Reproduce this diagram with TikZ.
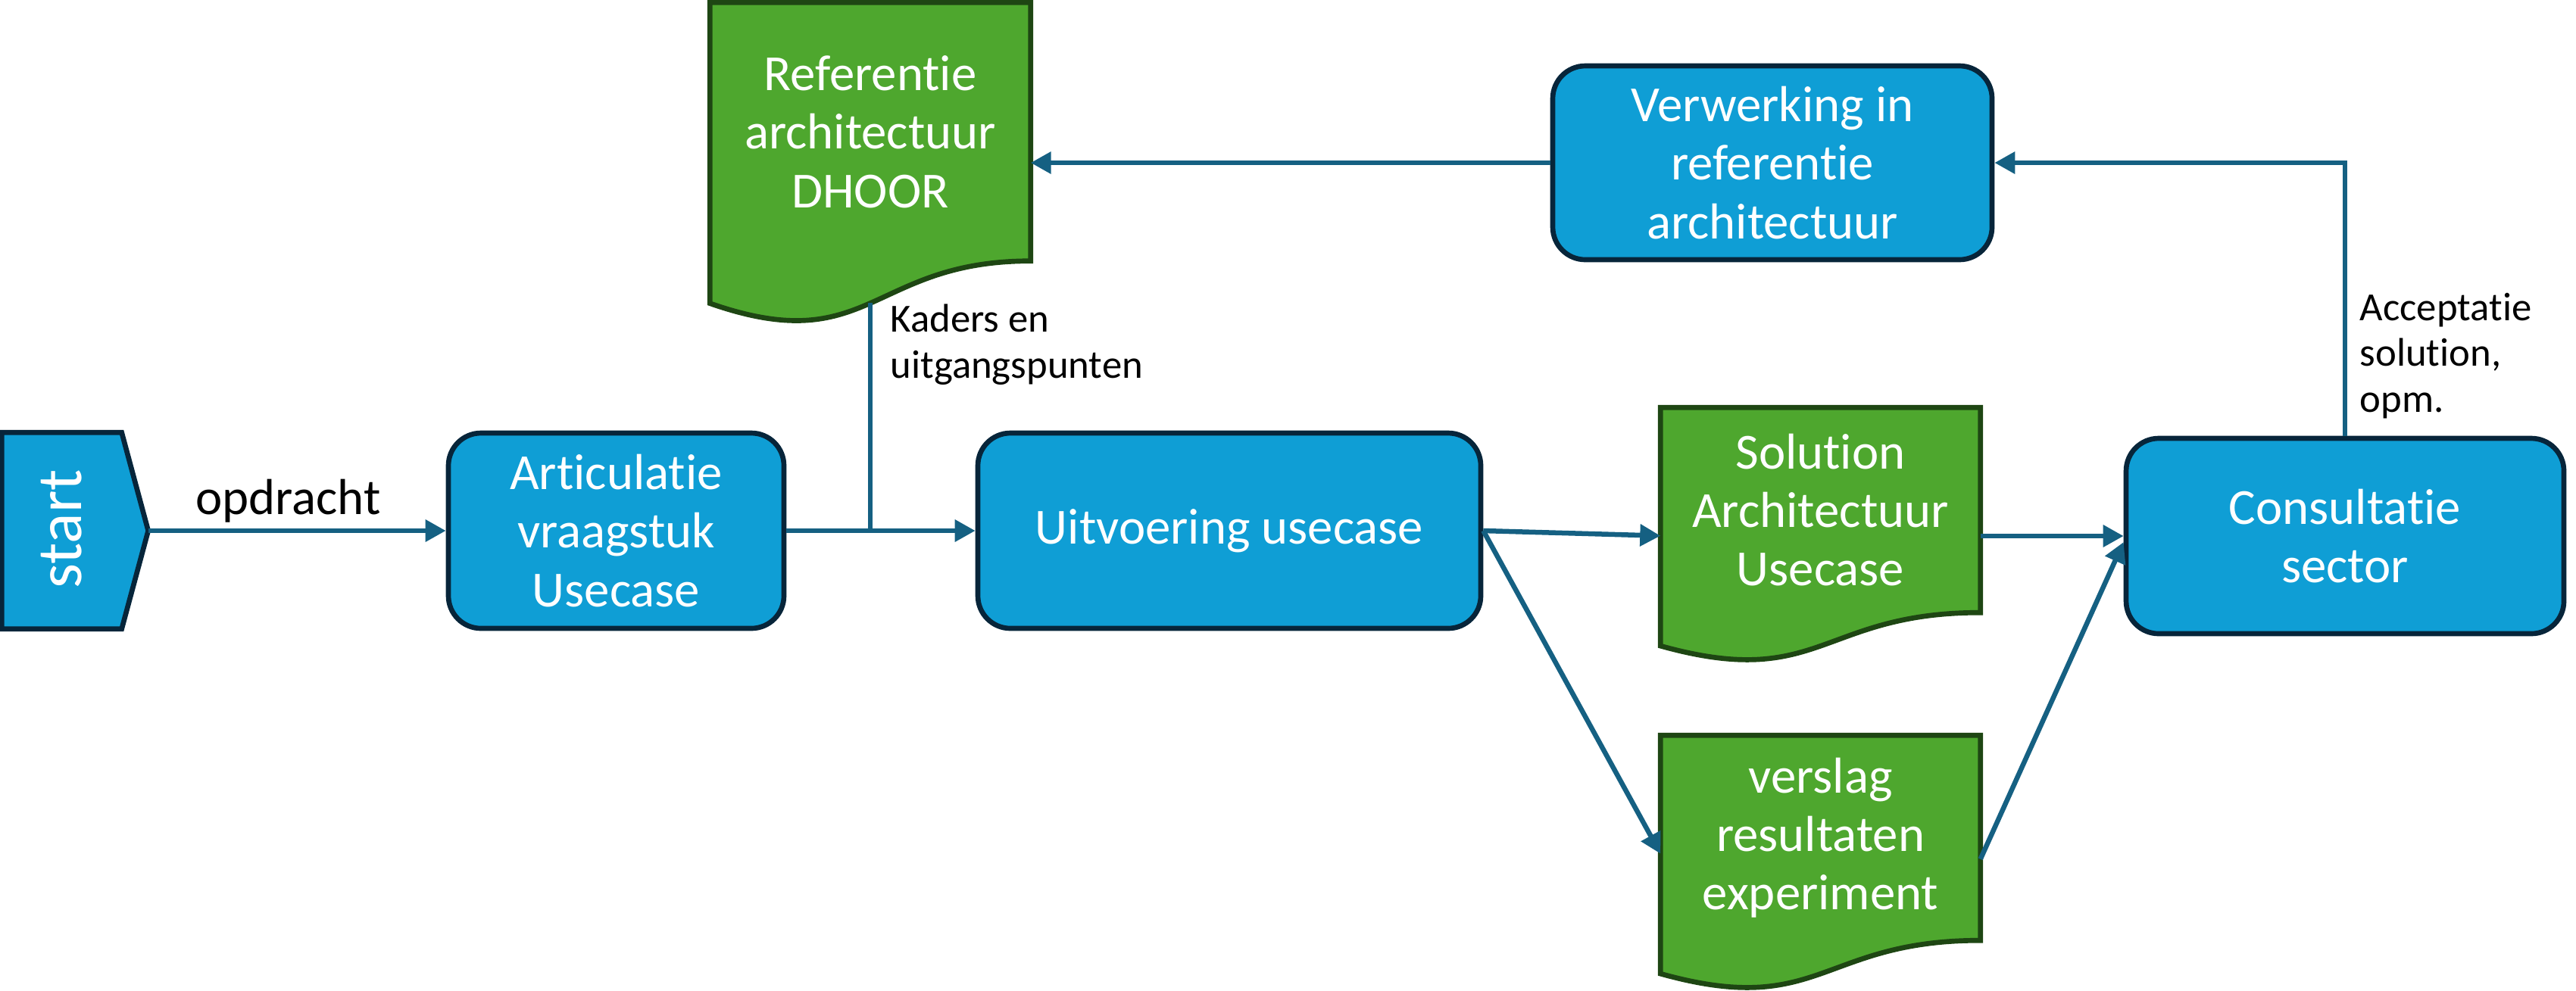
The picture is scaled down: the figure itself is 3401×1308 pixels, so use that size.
\documentclass[tikz,border=0pt]{standalone}
\usepackage{fontspec}
\setmainfont{Carlito}[Ligatures={NoCommon}]
\usetikzlibrary{arrows.meta,calc,backgrounds}
\definecolor{boxblue}{HTML}{0F9ED5}
\definecolor{boxedge}{HTML}{07253A}
\definecolor{docgreen}{HTML}{4EA72E}
\definecolor{docedge}{HTML}{1E4613}
\definecolor{flow}{HTML}{156082}
\tikzset{
  proc/.style={draw=boxedge, fill=boxblue, line width=1.9pt, rounded corners=4.3mm, text=white, align=center, font=\fontsize{19}{22}\selectfont, inner sep=0pt},
  docnode/.style={inner sep=0pt, text=white, align=center, font=\fontsize{19}{22}\selectfont},
  docshape/.style={draw=docedge, fill=docgreen, line width=1.9pt, line join=miter},
  startshape/.style={draw=boxedge, fill=boxblue, line width=1.9pt, line join=miter},
  conn/.style={draw=flow, line width=1.85pt, -{Triangle[length=2.7mm,width=2.8mm]}},
  plainconn/.style={draw=flow, line width=1.85pt},
  lbl/.style={font=\fontsize{15}{17.3}\selectfont, align=left, inner sep=0pt, text=black},
  biglbl/.style={font=\fontsize{19}{22}\selectfont, inner sep=0pt, text=black},
}
\begin{document}
\begin{tikzpicture}[x=0.1mm, y=-0.1mm]
\useasboundingbox (0,0) rectangle (3401,1308);

% process boxes
\node[proc, minimum width=44.3mm, minimum height=25.8mm] (art) at (813.5,701) {Articulatie\\vraagstuk\\Usecase};
\node[proc, minimum width=66.4mm, minimum height=25.8mm] (uit) at (1623,701) {Uitvoering usecase};
\node[proc, minimum width=58mm, minimum height=25.6mm] (verw) at (2340,215) {Verwerking in\\referentie\\architectuur};
\node[proc, minimum width=57.8mm, minimum height=25.8mm] (cons) at (3096,708) {Consultatie\\sector};

% document nodes (text + frame for anchors)
\node[docnode, minimum width=42.2mm, minimum height=34.0mm] (ref) at (1149,174) {Referentie\\architectuur\\DHOOR};
\node[docnode, minimum width=42.1mm, minimum height=26.95mm] (sol) at (2403.5,673.7) {Solution\\Architectuur\\Usecase};
\node[docnode, minimum width=42.1mm, minimum height=26.95mm] (vs) at (2403.5,1106.7) {verslag\\resultaten\\experiment};

% start
\node[minimum width=19.2mm, minimum height=25.8mm, inner sep=0pt] (start) at (99,701) {};

\begin{scope}[on background layer]
\draw[docshape] (ref.north west) -- (ref.north east) -- (ref.south east)
  .. controls (ref.south) and ($(ref.south)+(0,130)$) .. coordinate[pos=0.5] (refb) ($(ref.south west)+(0,56)$) -- cycle;
\draw[docshape] (sol.north west) -- (sol.north east) -- (sol.south east)
  .. controls (sol.south) and ($(sol.south)+(0,103)$) .. ($(sol.south west)+(0,44)$) -- cycle;
\draw[docshape] (vs.north west) -- (vs.north east) -- (vs.south east)
  .. controls (vs.south) and ($(vs.south)+(0,103)$) .. ($(vs.south west)+(0,44)$) -- cycle;
\draw[startshape] (start.north west) -- ([xshift=-3.5mm]start.north east) -- (start.east) -- ([xshift=-3.5mm]start.south east) -- (start.south west) -- cycle;
\end{scope}

\node[rotate=90, text=white, font=\fontsize{24}{28}\selectfont, inner sep=0pt] (starttxt) at (81,699) {start};

% connectors
\draw[conn] (start.east) -- node[biglbl, above=2pt, pos=0.47] (opd) {opdracht} (art.west);
\draw[conn] (art.east) -- (uit.west);
\coordinate (jn) at (refb |- art.east);
\draw[plainconn] (refb) -- (jn);
\draw[conn] (verw.west) -- (verw.west -| ref.east);
\draw[conn] (cons.north) |- (verw.east);
\draw[conn] (uit.east) -- ([yshift=-3.4mm]sol.west);
\draw[conn] (uit.east) -- ([yshift=-2.1mm]vs.west);
\draw[conn] (sol.east |- cons.west) -- (cons.west);
\draw[conn] ([yshift=-2.8mm]vs.east) -- ([yshift=-0.8mm]cons.west);

% labels
\node[lbl, anchor=west] (kad) at (1175,455) {Kaders en\\uitgangspunten};
\node[lbl, anchor=west] (acc) at (3115,470) {Acceptatie\\solution,\\opm.};
\end{tikzpicture}
\end{document}
